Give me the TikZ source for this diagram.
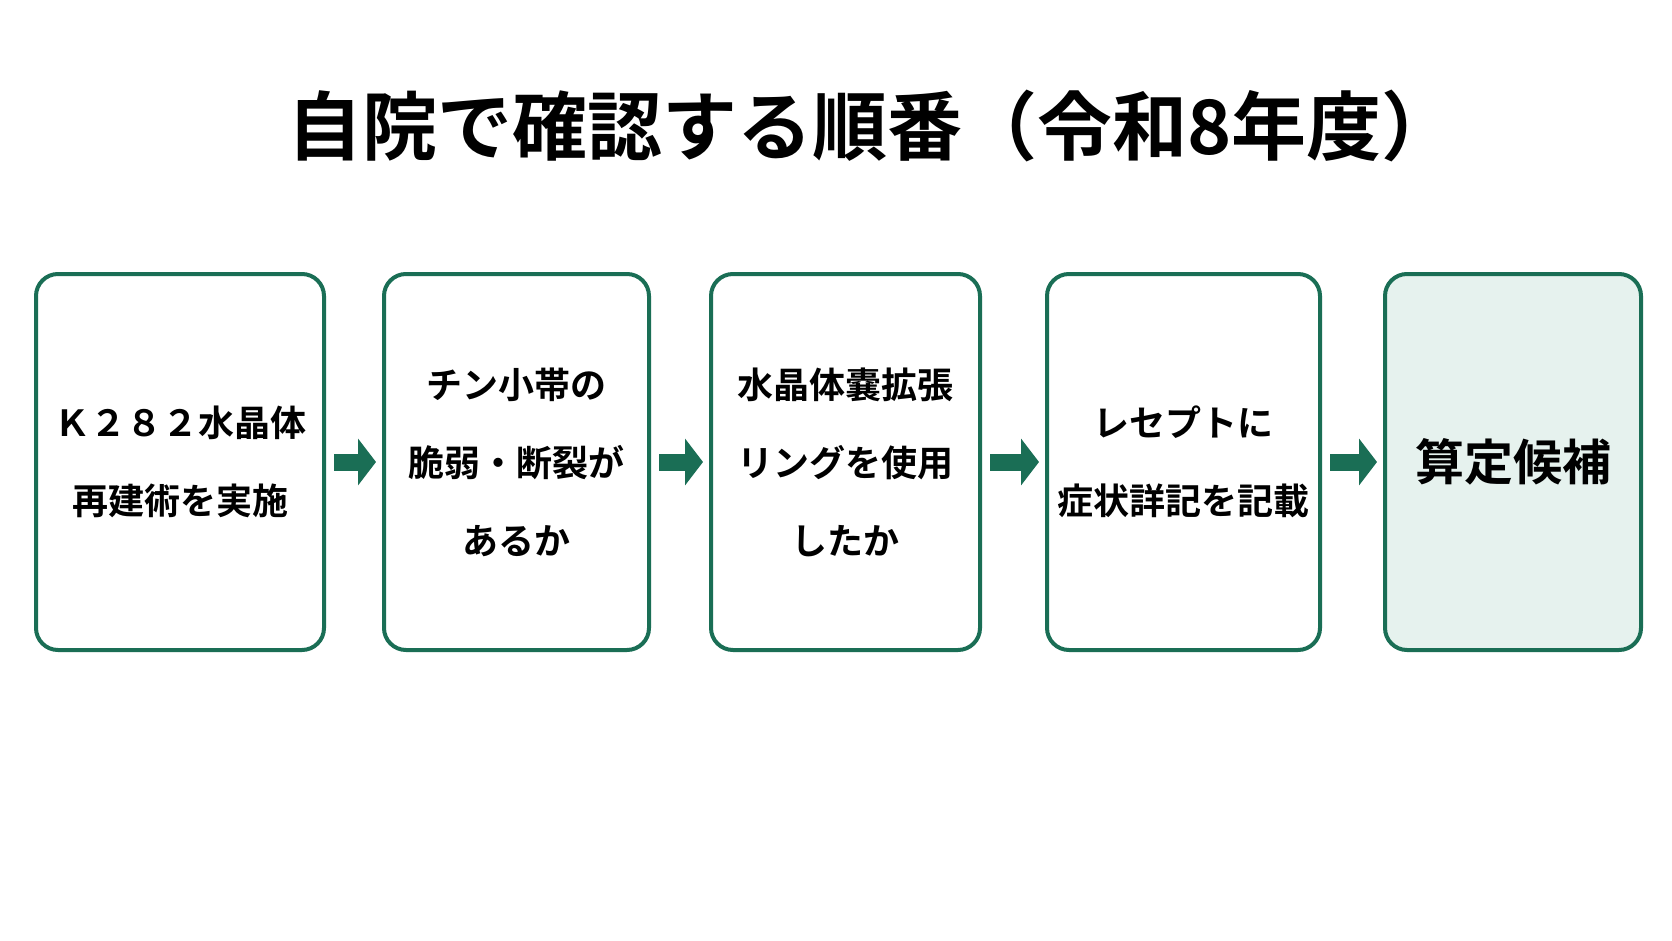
\documentclass[tikz,border=0pt]{standalone}
\usepackage{fontspec}
\newfontfamily\cjk{Noto Sans CJK JP}[BoldFont={Noto Sans CJK JP Bold}]
\usetikzlibrary{arrows.meta}
\definecolor{gr}{HTML}{1A6E55}
\definecolor{lg}{HTML}{E6F2EE}
\begin{document}
\begin{tikzpicture}[x=1pt,y=-1pt,
  box/.style={draw=gr,line width=4pt,rounded corners=22pt,fill=white,anchor=north west,align=center,font=\cjk\bfseries\fontsize{36}{78}\selectfont},
  arr/.style={draw=gr,line width=17pt,-{Triangle[length=18pt,width=46pt]}}]
\useasboundingbox[fill=white] (0,0) rectangle (1672,941);
\node[font=\cjk\bfseries\fontsize{75}{80}\selectfont] (t) at (872,126) {自院で確認する順番（令和8年度）};
\node[box,minimum width=288pt,minimum height=376pt] (b1) at (34,272) {Ｋ２８２水晶体\\再建術を実施};
\node[box,minimum width=265pt,minimum height=376pt] (b2) at (382,272) {チン小帯の\\脆弱・断裂が\\あるか};
\node[box,minimum width=269pt,minimum height=376pt] (b3) at (709,272) {水晶体嚢拡張\\リングを使用\\したか};
\node[box,minimum width=273pt,minimum height=376pt] (b4) at (1045,272) {レセプトに\\症状詳記を記載};
\node[box,fill=lg,minimum width=256pt,minimum height=376pt,font=\cjk\bfseries\fontsize{49}{60}\selectfont] (b5) at (1383,272) {算定候補};
\draw[arr] ([xshift=8pt]b1.east) -- ([xshift=-6pt]b2.west);
\draw[arr] ([xshift=8pt]b2.east) -- ([xshift=-6pt]b3.west);
\draw[arr] ([xshift=8pt]b3.east) -- ([xshift=-6pt]b4.west);
\draw[arr] ([xshift=8pt]b4.east) -- ([xshift=-6pt]b5.west);
\end{tikzpicture}
\end{document}
